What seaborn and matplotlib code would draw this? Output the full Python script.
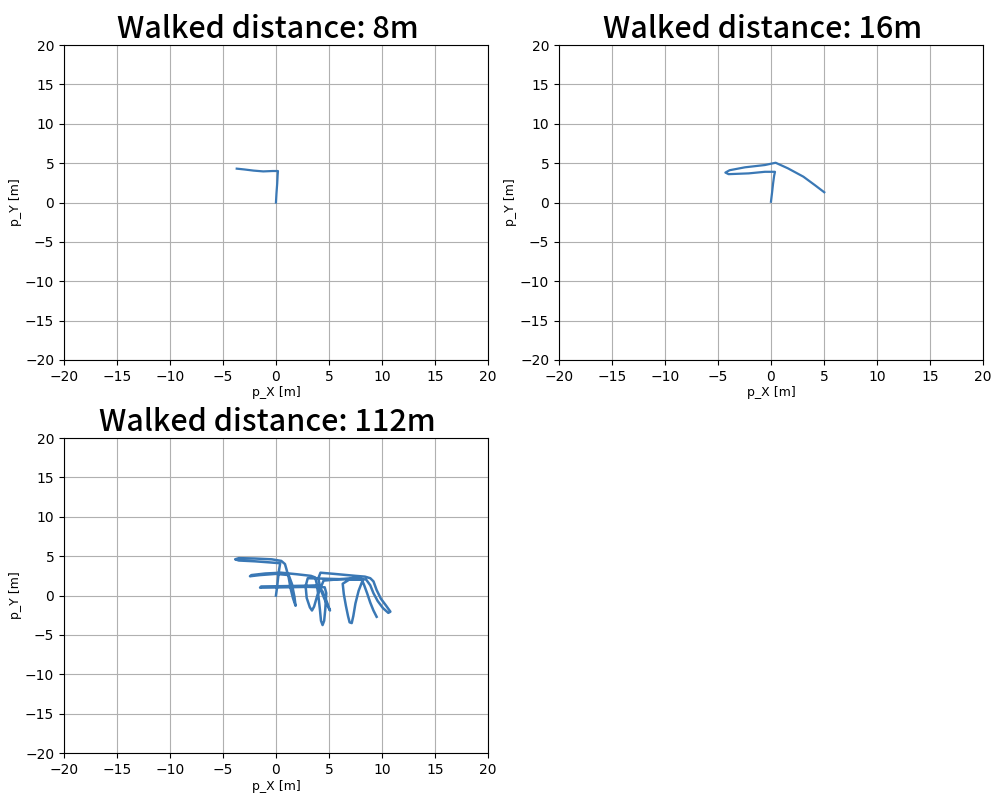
import matplotlib
matplotlib.use("Agg")
import matplotlib.pyplot as plt
import seaborn as sns
import pandas as pd

# ---- data (metres) ----
titles = ["Walked distance: 8m", "Walked distance: 16m", "Walked distance: 112m"]

x_8m = [0.0, 0.05, 0.12, 0.16, 0.19, -0.3, -1.2, -2.1, -3.0, -3.7]
y_8m = [0.0, 1.17, 2.43, 3.49, 4.0, 4.0, 3.95, 4.05, 4.2, 4.3]

x_16m = [0.0, 0.1, 0.2, 0.3, 0.38, -0.57, -2.1, -4.0, -4.3, -3.9, -2.45, -0.57, 0.44,
         1.6, 3.06, 4.15, 5.03]
y_16m = [0.1, 1.2, 2.4, 3.4, 3.9, 3.9, 3.7, 3.6, 3.8, 4.1, 4.47, 4.76, 5.05,
         4.34, 3.28, 2.2, 1.3]

x_112m = [0.0, 0.1, 0.2, 0.3, 0.4, -0.5, -2.0, -3.5, -3.85, -3.5, -2.0, -0.4, 0.5, 0.85, 1.0,
          1.2, 1.4, 1.6, 1.85, 1.75, 1.5, 1.2,
          0.0, -1.5, -2.45, -2.3, -1.0, 0.5, 2.0, 3.3, 3.7,
          3.85, 4.0, 4.15, 4.25, 4.4, 4.55, 4.65, 4.75, 4.6,
          3.0, 1.0, -1.5, -1.4, 1.0, 3.0, 4.0,
          4.4, 4.8, 5.1, 4.95, 4.6, 4.2, 4.0, 4.2,
          5.5, 7.5, 8.4, 8.9, 9.2, 9.5, 9.9, 10.4, 10.8, 10.6, 10.1, 9.6, 9.2, 8.9, 8.5,
          7.0, 6.3, 6.4, 6.6, 6.8, 6.95, 7.15, 7.3, 7.5, 7.8, 8.2,
          3.0, 2.8, 2.9, 3.2, 3.4, 3.6, 3.9, 4.5,
          8.0, 8.3, 8.6, 8.9, 9.2, 9.5]
y_112m = [0.0, 1.0, 2.2, 3.3, 4.1, 4.2, 4.35, 4.45, 4.6, 4.75, 4.7, 4.6, 4.4, 4.0, 3.3,
          2.3, 0.8, -0.3, -1.3, -0.2, 1.5, 2.6,
          2.75, 2.6, 2.45, 2.6, 2.8, 2.9, 2.7, 2.5, 2.3,
          1.5, 0.0, -1.8, -3.2, -3.75, -3.2, -1.8, 0.3, 1.05,
          1.1, 1.05, 1.0, 1.15, 1.2, 1.25, 1.3,
          0.5, -0.8, -1.9, -1.5, -0.5, 0.8, 2.2, 2.9,
          2.75, 2.5, 2.4, 2.2, 1.8, 0.7, -0.4, -1.3, -2.05, -2.2, -1.6, -0.7, 0.3, 1.3, 2.05,
          2.1, 1.5, 0.2, -1.3, -2.6, -3.4, -3.5, -2.6, -1.0, 0.6, 2.0,
          2.2, 1.2, -0.3, -1.5, -1.9, -1.4, 0.0, 1.9,
          2.3, 1.4, 0.3, -0.9, -1.9, -2.7]

xticks = [-20, -15, -10, -5, 0, 5, 10, 15, 20]
yticks = [-20, -15, -10, -5, 0, 5, 10, 15, 20]

series = [(x_8m, y_8m), (x_16m, y_16m), (x_112m, y_112m)]

fig = plt.figure(figsize=(9.98, 7.94), dpi=100)
positions = [
    [0.0641, 0.5466, 0.4248, 0.3967],
    [0.5601, 0.5466, 0.4248, 0.3967],
    [0.0641, 0.0516, 0.4248, 0.3967],
]
line_color = "#3a78b5"
widths = [1.6, 1.6, 1.8]

for pos, (xs, ys), title, lw in zip(positions, series, titles, widths):
    ax = fig.add_axes(pos)
    df = pd.DataFrame({"x": xs, "y": ys})
    sns.lineplot(data=df, x="x", y="y", sort=False, estimator=None, ax=ax,
                 color=line_color, linewidth=lw)
    ax.set_xlim(-20, 20)
    ax.set_ylim(-20, 20)
    ax.set_xticks(xticks)
    ax.set_yticks(yticks)
    ax.grid(True, color="#b0b0b0", linewidth=0.8)
    ax.set_axisbelow(True)
    ax.set_xlabel("p_X [m]", fontsize=9, labelpad=2)
    ax.set_ylabel("p_Y [m]", fontsize=9, labelpad=2)
    ax.tick_params(labelsize=10)
    ax.set_title(title, fontsize=22, fontweight="medium", x=0.48,
                 family=["Noto Sans CJK JP", "DejaVu Sans"], pad=4)

fig.savefig("out.png", dpi=100)
